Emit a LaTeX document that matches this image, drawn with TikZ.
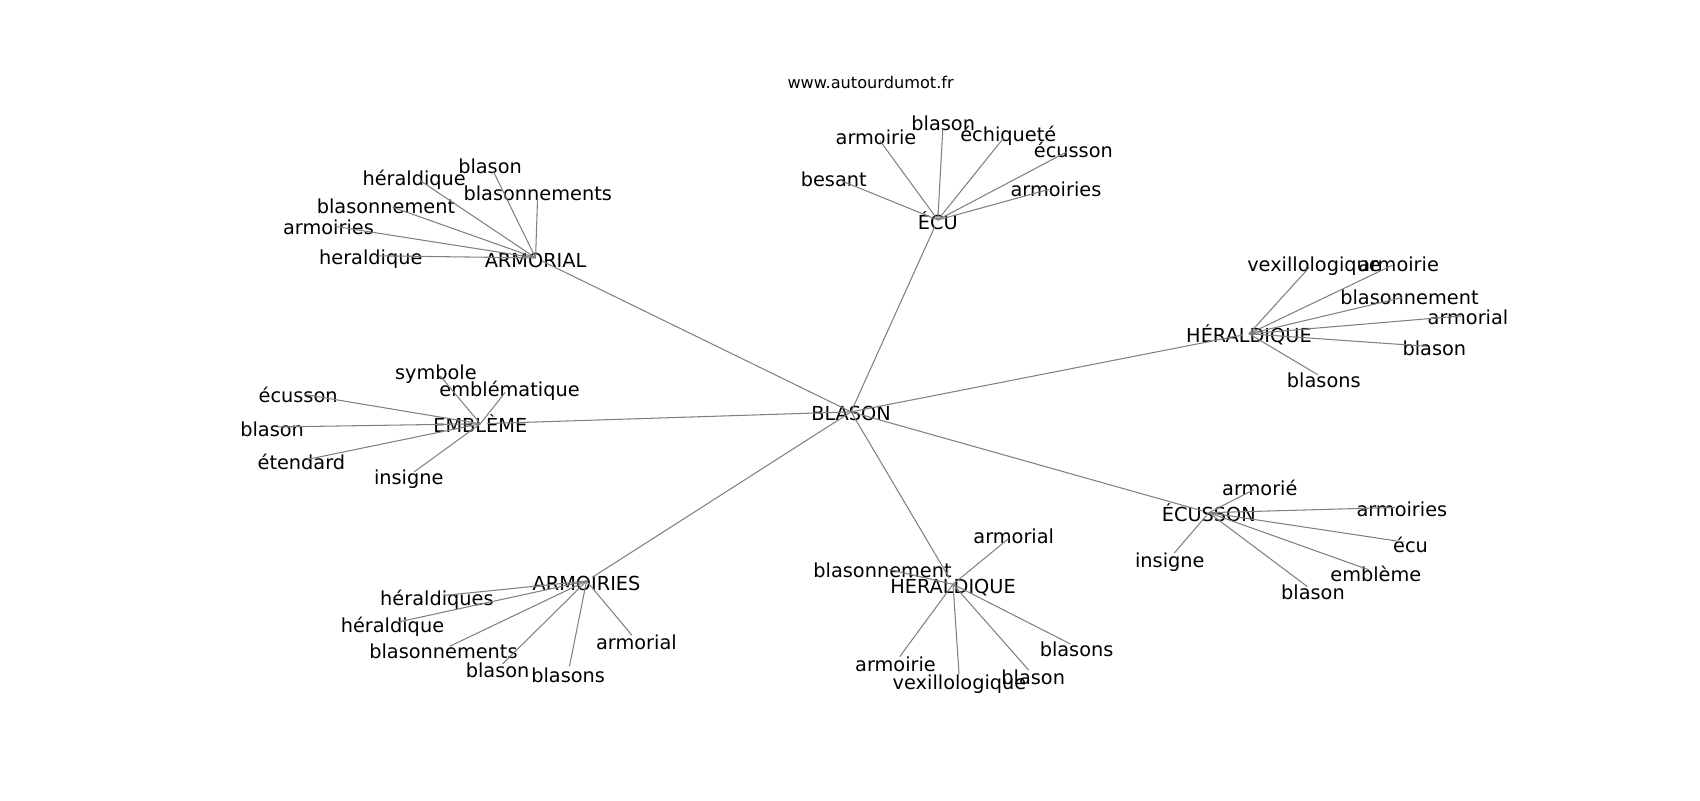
\documentclass[tikz,border=0pt]{standalone}
\usepackage{fontspec}
\setmainfont{DejaVu Sans}

\begin{document}
\begin{tikzpicture}[
  x=0.010842cm,y=-0.010842cm,
  w/.style={inner sep=0pt,text height=0.76em,text depth=0.24em,yshift=0.034cm,font=\fontsize{5.5}{6.6}\selectfont},
  lk/.style={draw=gray,line width=0.3pt,shorten >=0.7mm}
]
  \useasboundingbox (0,0) rectangle (1568,738);
  \node[inner sep=0pt,font=\fontsize{4.6}{5.5}\selectfont](site) at (803,76){www.autourdumot.fr};
  % centre
  \node[w](c) at (785,383){BLASON};
  % hubs
  \node[w](ecu) at (865,206){ÉCU};
  \node[w](armorial) at (494,241){ARMORIAL};
  \node[w](herald) at (1152,311){HÉRALDIQUE};
  \node[w](embleme) at (443,394){EMBLÈME};
  \node[w](ecusson) at (1115,476){ÉCUSSON};
  \node[w](armoiries) at (541,539){ARMOIRIES};
  \node[w](heraldb) at (879,542){HÉRALDIQUE};
  % leaves of ÉCU
  \node[w](ecu1) at (769,167){besant};
  \node[w](ecu2) at (808,128){armoirie};
  \node[w](ecu3) at (870,115){blason};
  \node[w](ecu4) at (930,125){échiqueté};
  \node[w](ecu5) at (990,140){écusson};
  \node[w](ecu6) at (974,176){armoiries};
  % leaves of ARMORIAL
  \node[w](arl1) at (452,155){blason};
  \node[w](arl2) at (382,166){héraldique};
  \node[w](arl3) at (496,180){blasonnements};
  \node[w](arl4) at (356,192){blasonnement};
  \node[w](arl5) at (303,211){armoiries};
  \node[w](arl6) at (342,239){heraldique};
  % leaves of HÉRALDIQUE (right)
  \node[w](her1) at (1212,245){vexillologique};
  \node[w](her2) at (1290,245){armoirie};
  \node[w](her3) at (1300,276){blasonnement};
  \node[w](her4) at (1354,294){armorial};
  \node[w](her5) at (1323,323){blason};
  \node[w](her6) at (1221,352){blasons};
  % leaves of EMBLÈME
  \node[w](emb1) at (402,345){symbole};
  \node[w](emb2) at (470,360){emblématique};
  \node[w](emb3) at (275,366){écusson};
  \node[w](emb4) at (251,397){blason};
  \node[w](emb5) at (278,428){étendard};
  \node[w](emb6) at (377,442){insigne};
  % leaves of ÉCUSSON
  \node[w](ecs1) at (1162,452){armorié};
  \node[w](ecs2) at (1293,471){armoiries};
  \node[w](ecs3) at (1301,504){écu};
  \node[w](ecs4) at (1269,531){emblème};
  \node[w](ecs5) at (1211,548){blason};
  \node[w](ecs6) at (1079,518){insigne};
  % leaves of ARMOIRIES
  \node[w](arm1) at (403,553){héraldiques};
  \node[w](arm2) at (362,578){héraldique};
  \node[w](arm3) at (409,602){blasonnements};
  \node[w](arm4) at (459,620){blason};
  \node[w](arm5) at (524,624){blasons};
  \node[w](arm6) at (587,594){armorial};
  % leaves of HÉRALDIQUE (bottom)
  \node[w](hbb1) at (935,496){armorial};
  \node[w](hbb2) at (814,527){blasonnement};
  \node[w](hbb3) at (826,614){armoirie};
  \node[w](hbb4) at (885,631){vexillologique};
  \node[w](hbb5) at (953,626){blason};
  \node[w](hbb6) at (993,600){blasons};
  \path[lk]
    (c.center) edge (ecu.center)
    (c.center) edge (armorial.center)
    (c.center) edge (herald.center)
    (c.center) edge (embleme.center)
    (c.center) edge (ecusson.center)
    (c.center) edge (armoiries.center)
    (c.center) edge (heraldb.center)
  ;
  \foreach \i in {1,...,6}{
    \path[lk] (ecu.center) edge (ecu\i.center)
      (armorial.center) edge (arl\i.center)
      (herald.center) edge (her\i.center)
      (embleme.center) edge (emb\i.center)
      (ecusson.center) edge (ecs\i.center)
      (armoiries.center) edge (arm\i.center)
      (heraldb.center) edge (hbb\i.center);
  }
\end{tikzpicture}
\end{document}
